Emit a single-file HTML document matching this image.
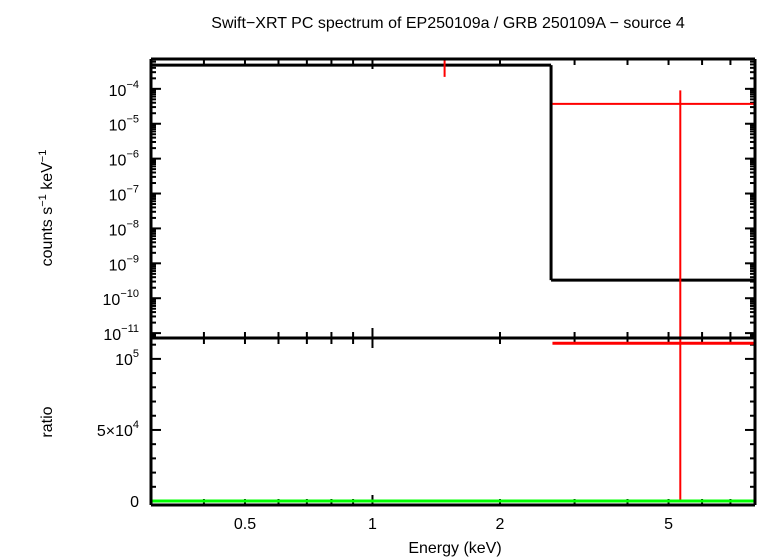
<!DOCTYPE html>
<html><head><meta charset="utf-8"><style>
html,body{margin:0;padding:0;background:#fff;}
svg{display:block;font-family:"Liberation Sans",sans-serif;}
</style></head><body>
<svg id="chart" width="770" height="558" viewBox="0 0 770 558" xmlns="http://www.w3.org/2000/svg">
<text x="448" y="28" font-size="16" text-anchor="middle">Swift−XRT PC spectrum of EP250109a / GRB 250109A − source 4</text>
<text transform="translate(52,208) rotate(-90)" font-size="16" text-anchor="middle">counts s<tspan font-size="11" dy="-6">−1</tspan><tspan dy="6"> keV</tspan><tspan font-size="11" dy="-6">−1</tspan></text>
<text transform="translate(52,422) rotate(-90)" font-size="16" text-anchor="middle">ratio</text>
<text x="455" y="553" font-size="16" text-anchor="middle">Energy (keV)</text>
<g id="g"></g>
</svg>
<script>
const xTicks=[0.5,1,2,5];
const xTickLabels=["0.5","1","2","5"];
const yTopExps=[-4,-5,-6,-7,-8,-9,-10,-11];
const modelEdges=[0.3,2.64,8];
const modelValues=[4.8e-4,3.3e-10];
const dataE=[1.48,5.33];
const dataELo=[1.48,2.66];
const dataEHi=[1.48,8];
const dataY=[3e-3,3.7e-5];
const dataYLo=[2.2e-4,1e-12];
const dataYHi=[1e-2,9e-5];
const ratioY=[null,1.11e5];
const ratioLo=[null,0];
const ratioHi=[null,2e5];
const ratioTicks=[0,5e4,1e5];

const NS="http://www.w3.org/2000/svg";
const g=document.getElementById('g');
const L=151,R=755,T1=59,B1=338,B2=505;
const xMin=0.3,xMax=8;
const X=e=>L+(Math.log10(e)-Math.log10(xMin))/(Math.log10(xMax)-Math.log10(xMin))*(R-L);
const yTopMax=-3.145,yTopMin=-11.14;
const Y1=v=>{let l=Math.log10(Math.max(v,1e-30));l=Math.max(yTopMin,Math.min(yTopMax,l));return T1+(yTopMax-l)/(yTopMax-yTopMin)*(B1-T1);};
const rMin=-2800,rMax=1.147e5;
const Y2=v=>{v=Math.max(rMin,Math.min(rMax,v));return B1+(rMax-v)/(rMax-rMin)*(B2-B1);};
function ln(x1,y1,x2,y2,c,w,name){const e=document.createElementNS(NS,'line');
e.setAttribute('x1',x1);e.setAttribute('y1',y1);e.setAttribute('x2',x2);e.setAttribute('y2',y2);
e.setAttribute('stroke',c);e.setAttribute('stroke-width',w);


g.appendChild(e);return e;}
function tx(x,y,s,size,anchor,name){const e=document.createElementNS(NS,'text');
e.setAttribute('x',x);e.setAttribute('y',y);e.setAttribute('font-size',size);e.setAttribute('text-anchor',anchor);


e.innerHTML=s;g.appendChild(e);return e;}
// x ticks (both panels)
const minorX=[0.3,0.4,0.5,0.6,0.7,0.8,0.9,1,2,3,4,5,6,7,8];
minorX.forEach(e=>{const x=X(e);const major=xTicks.includes(e)||e===1;const len=(e===1)?10:6;
 ln(x,T1,x,T1+len,'#000',2,'x-tick');ln(x,B1-len,x,B1+len,'#000',2,'x-tick');ln(x,B2-len,x,B2,'#000',2,'x-tick');});
xTicks.forEach((e,i)=>tx(X(e),529,xTickLabels[i],16,'middle','x-tick-label'));
// top y ticks
for(let d=-12;d<=-3;d++){for(let m=1;m<10;m++){const v=m*Math.pow(10,d);const l=Math.log10(v);if(l<yTopMin||l>yTopMax)continue;
 const y=Y1(v);const len=m===1?10:5;ln(L,y,L+len,y,'#000',2,'y-tick');ln(R-len,y,R,y,'#000',2,'y-tick');}}
yTopExps.forEach(d=>tx(139,Y1(Math.pow(10,d))+7,'10<tspan font-size="11" dy="-8">−'+(-d)+'</tspan>',16,'end','y-tick-label'));
// bottom y ticks
for(let v=0;v<=1.1e5;v+=1e4){const y=Y2(v);const len=(v%5e4===0)?10:5;ln(L,y,L+len,y,'#000',2,'ratio-tick');ln(R-len,y,R,y,'#000',2,'ratio-tick');}
tx(139,Y2(0)+6,'0',16,'end','ratio-tick-label');
tx(139,Y2(5e4)+6,'5×10<tspan font-size="11" dy="-8">4</tspan>',16,'end','ratio-tick-label');
tx(139,Y2(1e5)+6,'10<tspan font-size="11" dy="-8">5</tspan>',16,'end','ratio-tick-label');
// model step
for(let i=0;i<modelValues.length;i++){const y=Y1(modelValues[i]);ln(X(modelEdges[i]),y,X(modelEdges[i+1]),y,'#000',3,'model-step');
 if(i>0){ln(X(modelEdges[i]),Y1(modelValues[i-1]),X(modelEdges[i]),y,'#000',3,'model-step-edge');}}
// data points
for(let i=0;i<dataE.length;i++){const x=X(dataE[i]);
 ln(x,Y1(dataYHi[i]),x,Y1(dataYLo[i]),'#f00',2,'data-error-bar');
 if(dataEHi[i]>dataELo[i])ln(X(dataELo[i]),Y1(dataY[i]),X(dataEHi[i]),Y1(dataY[i]),'#f00',2,'data-energy-bin');
 if(ratioY[i]!==null){ln(x,Y2(ratioHi[i]),x,Y2(ratioLo[i]),'#f00',2,'ratio-error-bar');
  ln(X(dataELo[i]),Y2(ratioY[i]),X(dataEHi[i]),Y2(ratioY[i]),'#f00',3,'ratio-energy-bin');}}
// green unity line
ln(L,Y2(0),R,Y2(0),'#0f0',3,'ratio-reference-line');
// frames
ln(L,T1,R,T1,'#000',3,'frame');ln(L,B1,R,B1,'#000',3,'frame');ln(L,B2,R,B2,'#000',3,'frame');
ln(L,T1,L,B2,'#000',3,'frame');ln(R,T1,R,B2,'#000',3,'frame');
</script>
</body></html>
